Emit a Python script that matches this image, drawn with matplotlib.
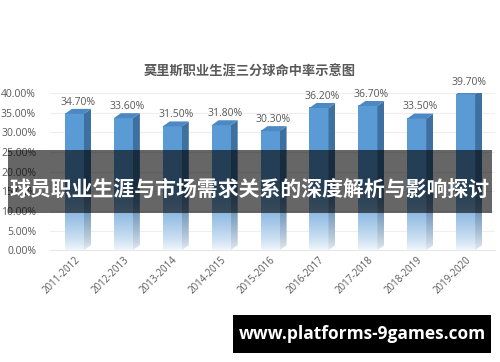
import numpy as np
import matplotlib
matplotlib.use("Agg")
import matplotlib.pyplot as plt
from matplotlib.patches import Polygon, Rectangle

plt.rcParams['font.family'] = ['Open Sans', 'Noto Sans CJK SC', 'DejaVu Sans']

seasons = ["2011-2012", "2012-2013", "2013-2014", "2014-2015", "2015-2016",
           "2016-2017", "2017-2018", "2018-2019", "2019-2020"]
rates = [34.70, 33.60, 31.50, 31.80, 30.30, 36.20, 36.70, 33.50, 39.70]
yticks = [0, 5, 10, 15, 20, 25, 30, 35, 40]
title = "莫里斯职业生涯三分球命中率示意图"
banner = "球员职业生涯与市场需求关系的深度解析与影响探讨"
site = "www.platforms-9games.com"

fig = plt.figure(figsize=(5.0, 3.62), dpi=100)
ax = fig.add_axes([0.10, 0.309, 0.89, 0.434])

W = 0.39      # bar front width
DX = 0.143    # depth in x (data units)
DY = 1.27     # depth in y (data units)
FADE = 16.0   # fade height

front = np.array([0x5B, 0x9B, 0xD5]) / 255
front_lo = np.array([0xF2, 0xF7, 0xFC]) / 255
side = np.array([0x3E, 0x70, 0xA0]) / 255
side_lo = np.array([0xE6, 0xEC, 0xF2]) / 255
top = np.array([0x4C, 0x88, 0xC4]) / 255


def grad(v, c_hi, c_lo, n=200):
    y = np.linspace(0, v, n)
    t = np.clip(y / FADE, 0, 1) ** 0.8
    arr = c_lo[None, :] * (1 - t[:, None]) + c_hi[None, :] * t[:, None]
    return arr[::-1][:, None, :]


for i, v in enumerate(rates):
    x0, x1 = i - W / 2, i + W / 2
    # front face with gradient
    im = ax.imshow(grad(v, front, front_lo), extent=[x0, x1, 0, v],
                   aspect='auto', interpolation='bilinear', zorder=3)
    # side face
    sp = Polygon([(x1, 0), (x1 + DX, DY), (x1 + DX, v + DY), (x1, v)],
                 closed=True, facecolor='none', edgecolor='none')
    ax.add_patch(sp)
    im2 = ax.imshow(grad(v + DY, side, side_lo), extent=[x1, x1 + DX, 0, v + DY],
                    aspect='auto', interpolation='bilinear', zorder=3)
    im2.set_clip_path(sp)
    # top face
    ax.add_patch(Polygon([(x0, v), (x1, v), (x1 + DX, v + DY), (x0 + DX, v + DY)],
                         closed=True, facecolor=top, edgecolor='none', zorder=4))
    ax.text(i + DX / 2, v + DY + 0.3, f"{v:.2f}%", ha='center', va='bottom',
            fontsize=7.5, color='#595959', zorder=5)

ax.set_xlim(-0.5, 8.6)
ax.set_ylim(0, 40)
ax.set_yticks(yticks)
ax.set_yticklabels([f"{t:.2f}%" for t in yticks], fontsize=7.5, color='#595959')
ax.set_xticks(range(len(seasons)))
ax.set_xticklabels(seasons, rotation=45, ha='right', rotation_mode='anchor',
                   fontsize=7, color='#595959')
ax.tick_params(length=0, pad=3)
ax.tick_params(axis='y', pad=10)
ax.grid(axis='y', color='#EEEEEE', linewidth=0.8, zorder=0)
ax.set_axisbelow(True)
for s in ['top', 'right', 'left']:
    ax.spines[s].set_visible(False)
ax.spines['bottom'].set_color('#E8E8E8')
ax.spines['bottom'].set_linewidth(0.8)

fig.text(0.5, 1 - 72 / 362, title, ha='center', va='center', fontsize=9.5,
         color='#595959', fontweight='bold', family=['Noto Sans CJK SC', 'DejaVu Sans'])

# banner overlay
fig.patches.append(Rectangle((8 / 500, 1 - 213 / 362), 484 / 500, 63 / 362,
                             transform=fig.transFigure, facecolor='black',
                             alpha=0.6, edgecolor='none', zorder=10))
fig.text(0.5, 1 - 189 / 362, banner, ha='center', va='center', fontsize=15,
         color='white', fontweight='bold', zorder=11,
         family=['Noto Sans CJK SC', 'DejaVu Sans'])

# website box
fig.patches.append(Rectangle((233 / 500, 1 - 353 / 362), 258 / 500, 38 / 362,
                             transform=fig.transFigure, facecolor='black',
                             edgecolor='none', zorder=10))
fig.text(362 / 500, 1 - 334 / 362, site, ha='center', va='center', fontsize=12.5,
         color='white', fontweight='bold', zorder=11, family=['Open Sans', 'DejaVu Sans'])

fig.savefig("out.png", dpi=100)
